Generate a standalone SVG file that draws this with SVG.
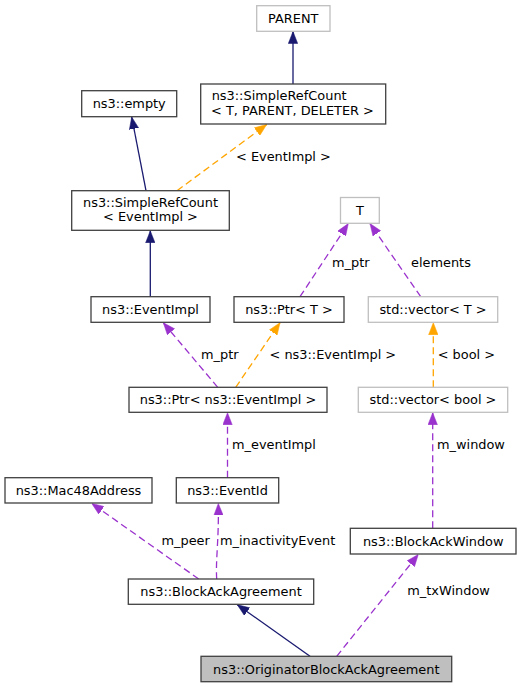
<svg xmlns="http://www.w3.org/2000/svg" width="521" height="688" viewBox="0 0 521 688">
<style>
text{font-family:"DejaVu Sans","Liberation Sans",sans-serif;font-size:12.9px;fill:#000}
.n rect{fill:#fff;stroke:#404040;stroke-width:1.3}
.g rect{fill:#fff;stroke:#bfbfbf;stroke-width:1.3}
.sel rect{fill:#bfbfbf;stroke:#404040;stroke-width:1.3}
.c{text-anchor:middle}
.e{fill:none;stroke-width:1.3}
.inh{stroke:#191970;marker-end:url(#aN)}
.tpl{stroke:#ffa500;stroke-dasharray:7,4;marker-end:url(#aO)}
.use{stroke:#9a32cd;stroke-dasharray:7,4;marker-end:url(#aP)}
</style>
<defs>
<marker id="aN" viewBox="0 0 12 10" refX="12" refY="5" markerWidth="12" markerHeight="10" markerUnits="userSpaceOnUse" orient="auto"><path d="M0,0.3 L12,5 L0,9.7 z" fill="#191970" stroke="#191970" stroke-width="0.5"/></marker>
<marker id="aO" viewBox="0 0 12 10" refX="12" refY="5" markerWidth="12" markerHeight="10" markerUnits="userSpaceOnUse" orient="auto"><path d="M0,0.3 L12,5 L0,9.7 z" fill="#ffa500" stroke="#ffa500" stroke-width="0.5"/></marker>
<marker id="aP" viewBox="0 0 12 10" refX="12" refY="5" markerWidth="12" markerHeight="10" markerUnits="userSpaceOnUse" orient="auto"><path d="M0,0.3 L12,5 L0,9.7 z" fill="#9a32cd" stroke="#9a32cd" stroke-width="0.5"/></marker>
</defs>
<rect width="521" height="688" fill="#fff"/>
<g id="connectors">
<path class="e inh" d="M293,84 L293,31.5"/>
<path class="e inh" d="M146,190.7 L131.7,117"/>
<path class="e tpl" d="M177,190.7 L266.7,124.5"/>
<text x="236" y="160.5">&lt; EventImpl &gt;</text>
<path class="e inh" d="M150.3,296.7 L150.3,230.8"/>
<path class="e use" d="M300,296.7 L348.3,223.6"/>
<text x="332" y="267">m_ptr</text>
<path class="e use" d="M420.7,296.7 L370,223.6"/>
<text x="411" y="267">elements</text>
<path class="e use" d="M217.7,387.3 L163.3,322.7"/>
<text x="201" y="358.5">m_ptr</text>
<path class="e tpl" d="M235.7,387.3 L280,322.7"/>
<text x="269.5" y="358.5">&lt; ns3::EventImpl &gt;</text>
<path class="e tpl" d="M433.3,387.3 L433.3,322.7"/>
<text x="437.7" y="358.5">&lt; bool &gt;</text>
<path class="e use" d="M227.5,477.7 L227.5,412.7"/>
<text x="232" y="448.8">m_eventImpl</text>
<path class="e use" d="M432.7,528.3 L432.7,412.7"/>
<text x="437" y="448.8">m_window</text>
<path class="e use" d="M198.7,579 L91.7,503.4"/>
<text x="161.5" y="545.2">m_peer</text>
<path class="e use" d="M216.7,579 C215.5,560 219,540 218.3,503.4"/>
<text x="220" y="545.2">m_inactivityEvent</text>
<path class="e inh" d="M310,656.3 L237.3,604.7"/>
<path class="e use" d="M336.7,656.3 L418.3,554.4"/>
<text x="407.3" y="595.2">m_txWindow</text>
</g>
<g id="PARENT" class="g"><rect x="256.7" y="5.7" width="73.3" height="25.6"/><text class="c" x="293.3" y="23">PARENT</text></g>
<g id="SimpleRefCountTPD" class="n"><rect x="200.7" y="84" width="185" height="40"/><text x="211.7" y="100.3">ns3::SimpleRefCount</text><text class="c" x="292.5" y="114.6">&lt; T, PARENT, DELETER &gt;</text></g>
<g id="empty" class="n"><rect x="81.7" y="90.7" width="95" height="26"/><text class="c" x="129.2" y="108.3">ns3::empty</text></g>
<g id="SimpleRefCountEventImpl" class="n"><rect x="71.7" y="190.7" width="157.6" height="39.6"/><text class="c" x="150.5" y="206.9">ns3::SimpleRefCount</text><text class="c" x="150.5" y="221.3">&lt; EventImpl &gt;</text></g>
<g id="T" class="g"><rect x="340.5" y="197.5" width="38.8" height="25.8"/><text class="c" x="359.9" y="215">T</text></g>
<g id="EventImpl" class="n"><rect x="91" y="296.7" width="119" height="25.6"/><text class="c" x="150.5" y="314">ns3::EventImpl</text></g>
<g id="PtrT" class="n"><rect x="234" y="296.7" width="110" height="25.6"/><text class="c" x="289" y="314">ns3::Ptr&lt; T &gt;</text></g>
<g id="vectorT" class="g"><rect x="368.3" y="296.7" width="129.4" height="25.6"/><text class="c" x="433" y="314">std::vector&lt; T &gt;</text></g>
<g id="PtrEventImpl" class="n"><rect x="129" y="387.3" width="198" height="25"/><text class="c" x="228" y="404.4">ns3::Ptr&lt; ns3::EventImpl &gt;</text></g>
<g id="vectorBool" class="g"><rect x="358.3" y="387.3" width="149.4" height="25"/><text class="c" x="433" y="404.4">std::vector&lt; bool &gt;</text></g>
<g id="Mac48Address" class="n"><rect x="5" y="477.7" width="147" height="25.3"/><text class="c" x="78.5" y="494.9">ns3::Mac48Address</text></g>
<g id="EventId" class="n"><rect x="176.3" y="477.7" width="102.4" height="25.3"/><text class="c" x="227.5" y="494.9">ns3::EventId</text></g>
<g id="BlockAckWindow" class="n"><rect x="350.3" y="528.3" width="165.7" height="25.7"/><text class="c" x="433.2" y="545.7">ns3::BlockAckWindow</text></g>
<g id="BlockAckAgreement" class="n"><rect x="128.3" y="579" width="185.4" height="25.3"/><text class="c" x="221" y="596.3">ns3::BlockAckAgreement</text></g>
<g id="OriginatorBlockAckAgreement" class="sel"><rect x="201" y="656.3" width="250.7" height="25.4"/><text class="c" x="326.3" y="673.6">ns3::OriginatorBlockAckAgreement</text></g>
</svg>
